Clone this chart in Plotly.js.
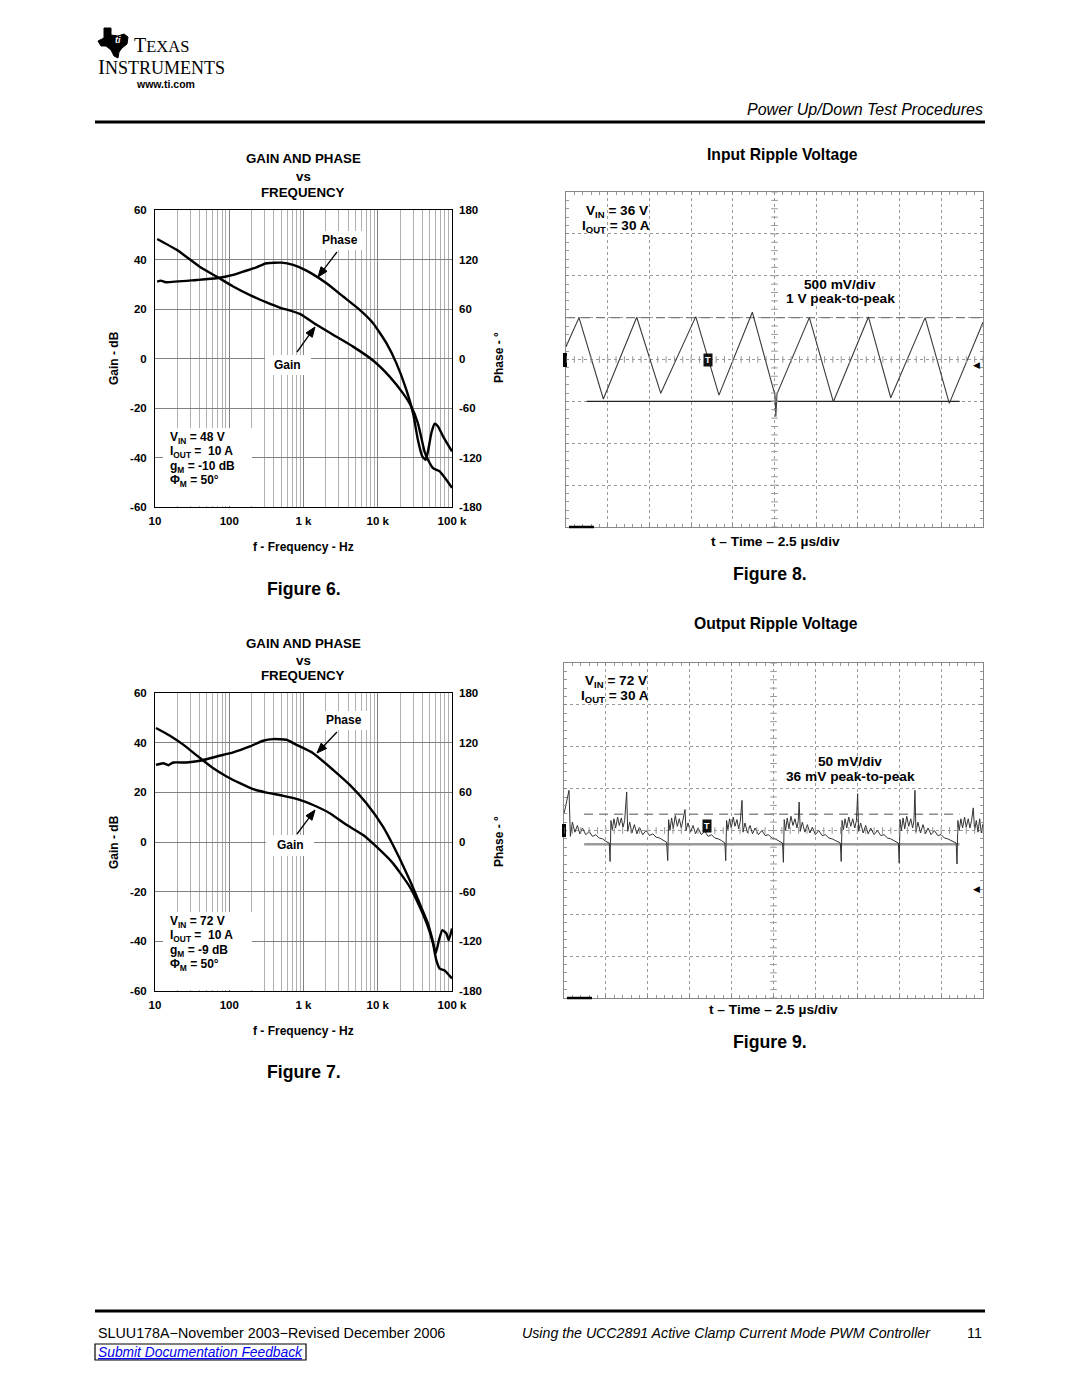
<!DOCTYPE html>
<html><head><meta charset="utf-8">
<script src="https://cdn.plot.ly/plotly-3.0.1.min.js"></script>
<style>html,body{margin:0;padding:0;background:#fff}</style>
</head><body>
<div id="chart" style="width:1080px;height:1397px"></div>
<script>
// ---------------- DATA ----------------
// Figure 6 (VIN = 48 V)
const fig6GainFreq = [10.7, 19.6, 40, 67.6, 113, 200, 318, 479, 891, 1496, 2500, 4650, 8650, 14460, 21800, 28300, 34700, 42600, 47500, 55500, 68200, 84000, 100000];
const fig6Gain     = [48.3, 43.9, 37.1, 33.1, 29.1, 25.3, 22.7, 20.6, 18.0, 13.6, 9.6, 4.8, -0.8, -7.3, -14.0, -19.4, -26.1, -37.5, -40.9, -44.3, -45.6, -49.0, -52.3];
const fig6PhaseFreq = [10.7, 12, 14, 36.3, 67.6, 113, 154, 233, 318, 505, 726, 1097, 2040, 3420, 5730, 8650, 13090, 17800, 24300, 29900, 34700, 39800, 44200, 47500, 52700, 58500, 64900, 75700, 100000];
const fig6Phase     = [93.2, 94.4, 92.5, 95.2, 97.3, 101.3, 105.3, 110.6, 115.4, 116.2, 113.4, 106.5, 91.2, 75.1, 58.9, 42.8, 18.6, -5.6, -37.9, -66.2, -98.5, -118.6, -122.7, -112.6, -90.4, -79.1, -82.3, -94.4, -112.6];

// Figure 7 (VIN = 72 V)
const fig7GainFreq = [10.3, 15.9, 24, 40.3, 61, 92, 139, 210, 318, 532, 891, 1349, 2260, 3790, 6350, 9600, 16070, 26900, 36700, 47500, 55500, 61500, 68200, 79500, 100000];
const fig7Gain     = [45.9, 42.8, 39.2, 33.8, 29.7, 26.4, 23.7, 21.3, 19.9, 18.6, 17.0, 14.9, 11.6, 6.9, 2.8, -1.9, -8.6, -18.0, -26.1, -34.2, -40.9, -47.6, -51.0, -51.7, -55.0];
const fig7PhaseFreq = [10.3, 12.9, 15.2, 17.6, 26.7, 40.3, 67.6, 113, 190, 286, 391, 590, 805, 1349, 2500, 4200, 7040, 11760, 17800, 26900, 36700, 47500, 55500, 60200, 66800, 74100, 84000, 90200, 100000];
const fig7Phase     = [93.2, 95.2, 92.8, 96.0, 96.0, 98.1, 103.3, 108.2, 115.4, 122.3, 124.3, 123.5, 117.4, 107.3, 87.2, 69.0, 46.8, 18.6, -11.7, -46.0, -74.3, -98.5, -120.7, -134.8, -118.6, -106.5, -110.6, -118.6, -104.5];

// Bode tick labels
const freqTickVals = [10, 100, 1000, 10000, 100000];
const freqTickText = ['10', '100', '1 k', '10 k', '100 k'];
const gainTickVals = [-60, -40, -20, 0, 20, 40, 60];
const gainTickText = ['-60', '-40', '-20', '0', '20', '40', '60'];
const phaseTickVals = [-180, -120, -60, 0, 60, 120, 180];
const phaseTickText = ['-180', '-120', '-60', '0', '60', '120', '180'];

// Figure 8 input ripple (time in µs, voltage in mV; 2.5 µs/div, 500 mV/div)
const fig8Time = [0, 0.78, 2.24, 4.24, 5.68, 7.78, 9.17, 11.17, 12.53, 12.58, 12.65, 14.59, 16.03, 18.13, 19.47, 21.53, 22.98, 25.0];
const fig8Volt = [153, 500, -472, 505, -404, 512, -425, 565, -425, -684, -410, 500, -505, 508, -457, 500, -524, 445];
const fig8CursorHigh = 500, fig8CursorLow = -500;
const fig8HighSpan = [0, 25], fig8LowSpan = [1.24, 23.6];

// Figure 9 output ripple (time in µs, voltage in mV; 2.5 µs/div, 50 mV/div)
const fig9Time = [
 0.00,0.30,0.38,0.50,0.65,0.80,0.95,1.10,1.30,1.50,1.70,1.90,2.10,2.30,2.50,2.70,
 2.75,2.80,2.88,2.98,3.08,3.20,3.30,3.42,3.52,3.62,3.74,3.80,3.92,4.05,4.20,4.35,4.50,4.70,4.90,5.10,5.30,5.50,5.70,5.90,6.12,
 6.19,6.24,6.32,6.42,6.52,6.64,6.76,6.88,7.00,7.10,7.22,7.28,7.40,7.55,7.70,7.85,8.00,8.20,8.40,8.60,8.80,9.00,9.20,9.40,9.60,
 9.65,9.70,9.78,9.88,9.98,10.10,10.20,10.32,10.42,10.52,10.62,10.68,10.80,10.95,11.10,11.25,11.40,11.60,11.80,12.00,12.20,12.40,12.60,12.80,13.04,
 13.09,13.14,13.22,13.32,13.42,13.54,13.66,13.78,13.90,13.98,14.03,14.10,14.22,14.37,14.52,14.67,14.82,15.00,15.20,15.40,15.60,15.80,16.00,16.20,16.49,
 16.54,16.59,16.67,16.77,16.87,16.99,17.11,17.23,17.35,17.45,17.52,17.58,17.70,17.85,18.00,18.15,18.30,18.50,18.70,18.90,19.10,19.30,19.50,19.70,19.95,
 20.00,20.05,20.13,20.23,20.33,20.45,20.57,20.69,20.80,20.88,20.94,21.00,21.12,21.27,21.42,21.57,21.72,21.90,22.10,22.30,22.50,22.70,22.90,23.10,23.40,
 23.45,23.50,23.58,23.68,23.78,23.90,24.00,24.12,24.22,24.32,24.42,24.50,24.60,24.70,24.80,24.90,25.00];
const fig9Volt = [
 20,48,-7,10,-2,6,-4,3,-5,-1,-7,-5,-9,-10,-13,-15,
 -37,12,1,14,3,16,6,15,4,12,46,-1,10,-3,7,-4,4,-5,0,-6,-4,-8,-9,-11,-14,
 -36,13,0,15,2,18,5,14,3,12,25,0,9,-2,6,-4,3,-5,-1,-7,-5,-9,-10,-12,-15,
 -36,12,1,14,3,16,5,13,2,11,36,-2,9,-3,6,-4,3,-5,0,-6,-5,-9,-10,-12,-15,
 -38,13,0,15,2,17,6,14,3,12,34,-1,10,-2,7,-3,4,-5,0,-6,-5,-9,-10,-12,-15,
 -37,12,1,14,3,16,5,14,3,12,44,-1,9,-3,6,-4,3,-5,0,-6,-5,-9,-10,-12,-15,
 -39,13,0,15,2,17,5,14,3,12,48,-2,10,-3,7,-4,3,-5,0,-6,-5,-9,-10,-12,-15,
 -40,12,0,14,3,16,4,14,3,12,27,0,12,-2,14,-3,8];
const fig9CursorHigh = 19.5, fig9CursorLow = -16.5;
const fig9HighSpan = [1.2, 23.6], fig9LowSpan = [1.2, 23.6];

// ---------------- LAYOUT HELPERS ----------------
const W = 1080, H = 1397;
const X = p => p / W, Y = p => 1 - p / H;
const b6 = {l:155, r:452, t:210, b:507};
const b7 = {l:155, r:452, t:693, b:991};
const s8 = {l:566, r:983, t:192, b:527};
const s9 = {l:564, r:983, t:663, b:998};
const FONT = 'Liberation Sans, Arial, sans-serif';
const TICKFONT = {family:FONT, size:11.5, color:'#000', weight:'bold'};

const minorFreq = [];
for (let d = 1; d <= 4; d++) for (let k = 2; k <= 9; k++) minorFreq.push(k * Math.pow(10, d));

function bodeX(box, anchor) {
  return {domain:[X(box.l), X(box.r)], anchor, type:'log', range:[1,5],
    tickmode:'array', tickvals:freqTickVals, ticktext:freqTickText, ticks:'',
    showline:true, mirror:true, linecolor:'#000', linewidth:1,
    showgrid:true, gridcolor:'#828282', gridwidth:1, zeroline:false,
    minor:{tickmode:'array', tickvals:minorFreq, showgrid:true, gridcolor:'#b0b0b0', gridwidth:1, ticks:''},
    tickfont:TICKFONT, ticklabelstandoff:3, fixedrange:true};
}
function bodeGain(box, anchor) {
  return {domain:[Y(box.b), Y(box.t)], anchor, range:[-60,60], tickmode:'array', tickvals:gainTickVals, ticktext:gainTickText,
    ticks:'', showline:true, mirror:true, linecolor:'#000', linewidth:1,
    showgrid:true, gridcolor:'#828282', gridwidth:1, zeroline:false,
    tickfont:TICKFONT, ticklabelstandoff:5, fixedrange:true};
}
function bodePhase(over, anchor) {
  return {overlaying:over, anchor, side:'right', range:[-180,180], tickmode:'array', tickvals:phaseTickVals, ticktext:phaseTickText,
    ticks:'', showline:false, showgrid:false, zeroline:false,
    tickfont:TICKFONT, ticklabelstandoff:6, fixedrange:true};
}
function scopeX(box, anchor) {
  return {domain:[X(box.l), X(box.r)], anchor, range:[0,25], tick0:0, dtick:2.5,
    showticklabels:false, ticks:'inside', ticklen:3, tickcolor:'#888',
    showline:true, mirror:'allticks', linecolor:'#888', linewidth:1,
    showgrid:true, gridcolor:'#9a9a9a', griddash:'dot', gridwidth:1, zeroline:false,
    minor:{dtick:0.5, tick0:0, ticks:'inside', ticklen:3, tickcolor:'#999', showgrid:false}, fixedrange:true};
}
function scopeY(box, anchor, span, major) {
  return {domain:[Y(box.b), Y(box.t)], anchor, range:[-span, span], tick0:0, dtick:major,
    showticklabels:false, ticks:'inside', ticklen:3, tickcolor:'#888',
    showline:true, mirror:'allticks', linecolor:'#888', linewidth:1,
    showgrid:true, gridcolor:'#9a9a9a', griddash:'dot', gridwidth:1, zeroline:false,
    minor:{dtick:major/5, tick0:0, ticks:'inside', ticklen:3, tickcolor:'#999', showgrid:false}, fixedrange:true};
}

// ---------------- TRACES ----------------
const bodeLine = {color:'#000', width:2.4, shape:'spline', smoothing:0.5};
const traces = [
  {x:fig6GainFreq, y:fig6Gain, xaxis:'x', yaxis:'y', mode:'lines', line:bodeLine, hoverinfo:'skip'},
  {x:fig6PhaseFreq, y:fig6Phase, xaxis:'x', yaxis:'y2', mode:'lines', line:bodeLine, hoverinfo:'skip'},
  {x:fig7GainFreq, y:fig7Gain, xaxis:'x2', yaxis:'y3', mode:'lines', line:bodeLine, hoverinfo:'skip'},
  {x:fig7PhaseFreq, y:fig7Phase, xaxis:'x2', yaxis:'y4', mode:'lines', line:bodeLine, hoverinfo:'skip'},
  {x:fig8HighSpan, y:[fig8CursorHigh, fig8CursorHigh], xaxis:'x3', yaxis:'y5', mode:'lines', line:{color:'#7a7a7a', width:1.3, dash:'9px,6px'}, hoverinfo:'skip'},
  {x:fig8LowSpan, y:[fig8CursorLow, fig8CursorLow], xaxis:'x3', yaxis:'y5', mode:'lines', line:{color:'#222', width:1.3}, hoverinfo:'skip'},
  {x:fig8Time, y:fig8Volt, xaxis:'x3', yaxis:'y5', mode:'lines', line:{color:'#3a3a3a', width:1.1}, hoverinfo:'skip'},
  {x:fig9HighSpan, y:[fig9CursorHigh, fig9CursorHigh], xaxis:'x4', yaxis:'y6', mode:'lines', line:{color:'#8a8a8a', width:1.5, dash:'9px,6px'}, hoverinfo:'skip'},
  {x:fig9LowSpan, y:[fig9CursorLow, fig9CursorLow], xaxis:'x4', yaxis:'y6', mode:'lines', line:{color:'#9a9a9a', width:2.5}, hoverinfo:'skip'},
  {x:fig9Time, y:fig9Volt, xaxis:'x4', yaxis:'y6', mode:'lines', line:{color:'#333', width:1}, hoverinfo:'skip'}
];

// ---------------- SHAPES ----------------
const shapes = [];
function pline(x0, y0, x1, y1, w, c) {
  shapes.push({type:'line', xref:'paper', yref:'paper', x0:X(x0), y0:Y(y0), x1:X(x1), y1:Y(y1), line:{color:c||'#000', width:w}, layer:'above'});
}
function prect(x0, y0, x1, y1, fill, lineColor, lw) {
  shapes.push({type:'rect', xref:'paper', yref:'paper', x0:X(x0), y0:Y(y1), x1:X(x1), y1:Y(y0),
    fillcolor:fill, line:{color:lineColor||'rgba(0,0,0,0)', width:lw||0}, layer:'above'});
}
function ppath(pts, fill) {
  shapes.push({type:'path', xref:'paper', yref:'paper', fillcolor:fill, line:{color:fill, width:1}, layer:'above',
    path:'M' + pts.map(p => X(p[0]) + ',' + Y(p[1])).join(' L') + ' Z'});
}
function arrowShape(hx, hy, tx, ty) {
  const dx = hx - tx, dy = hy - ty, len = Math.hypot(dx, dy);
  const ux = dx / len, uy = dy / len, nx = -uy, ny = ux;
  const hl = 10, hw = 3.8;
  const bx = hx - ux * hl, by = hy - uy * hl;
  pline(tx, ty, bx + ux * 2, by + uy * 2, 1.3);
  ppath([[hx, hy], [bx + nx * hw, by + ny * hw], [bx - nx * hw, by - ny * hw]], '#000');
}
// header / footer rules
pline(95, 122, 985, 122, 3);
pline(95, 1311, 985, 1311, 3);
prect(95, 1344, 306, 1360, 'rgba(0,0,0,0)', '#000', 1.2);
// white label patches in Bode plots
prect(163, 428, 252, 506, '#fff');
prect(315, 231, 366, 250, '#fff');
prect(265, 355, 311, 375, '#fff');
prect(163, 912, 252, 990, '#fff');
prect(318, 711, 370, 730, '#fff');
prect(266, 835, 314, 856, '#fff');
// arrows
arrowShape(318, 277, 337, 252);
arrowShape(315, 327, 297, 352);
arrowShape(317, 753, 337, 732);
arrowShape(315, 810, 297, 834);
// scope markers
prect(563, 353, 567, 367, '#000');
prect(562, 824, 566, 837, '#000');
pline(569, 527, 594, 527, 2.5);
pline(567, 998, 592, 998, 2.5);
// scope center-line ticks
function centerTicks(xa, ya, yHalf, yStep, ySpan) {
  for (let i = 0; i <= 50; i++) {
    const t = i * 0.5;
    shapes.push({type:'line', xref:xa, yref:ya, x0:t, x1:t, y0:-yHalf, y1:yHalf, line:{color:'#999', width:1}});
  }
  const n = Math.round(2 * ySpan / yStep);
  for (let j = 0; j <= n; j++) {
    const v = -ySpan + j * yStep;
    shapes.push({type:'line', xref:xa, yref:ya, x0:12.3, x1:12.7, y0:v, y1:v, line:{color:'#999', width:1}});
  }
}
centerTicks('x3', 'y5', 40, 100, 2000);
centerTicks('x4', 'y6', 4, 10, 200);
// TI logo silhouette
ppath([[104,28],[111,28],[111,35],[118,36],[124,34],[128,37],[127,44],[122,48],[119,52],[118,58],[114,56],[111,50],[106,46],[101,46],[98,41],[104,38]], '#000');

// ---------------- ANNOTATIONS ----------------
const ann = [];
function txt(text, x, y, size, o) {
  ann.push(Object.assign({xref:'paper', yref:'paper', x:X(x), y:Y(y), text, showarrow:false,
    font:{family:FONT, size, color:'#000'}, xanchor:'center', yanchor:'middle'}, o || {}));
}
// header
txt('<span style="font-size:20px">T</span>EXAS', 132, 45, 16.5, {xanchor:'left', font:{family:'Liberation Serif, serif', size:16.5, color:'#000'}});
txt('<span style="font-size:21px">I</span>NSTRUMENTS', 96, 67, 18, {xanchor:'left', font:{family:'Liberation Serif, serif', size:18, color:'#000'}});
txt('<b>www.ti.com</b>', 165, 84, 10.5);
txt('<b><i>ti</i></b>', 118, 40, 9, {font:{family:FONT, size:9, color:'#fff'}});
txt('<i>Power Up/Down Test Procedures</i>', 985, 110, 16, {xanchor:'right'});
// footer
txt('SLUU178A\u2212November 2003\u2212Revised December 2006', 96, 1333, 14.3, {xanchor:'left'});
txt('<i>Using the UCC2891 Active Clamp Current Mode PWM Controller</i>', 933, 1333, 14.2, {xanchor:'right'});
txt('11', 984, 1333, 14.3, {xanchor:'right'});
txt('<i><span style="text-decoration:underline">Submit Documentation Feedback</span></i>', 96, 1352, 13.8, {xanchor:'left', font:{family:FONT, size:13.8, color:'#0000ee'}});

// Bode titles / labels
function bodeText(dy, vin, gm, phi) {
  txt('<b>GAIN AND PHASE</b>', 303, 159 + dy, 13.3);
  txt('<b>vs</b>', 303, 176 + dy, 13.3);
  txt('<b>FREQUENCY</b>', 303, 192 + dy, 13.3);
  txt('<b>f - Frequency - Hz</b>', 303, 547 + dy, 12);
  txt('<b>Gain - dB</b>', 114, 358 + dy, 12, {textangle:-90});
  txt('<b>Phase - \u00b0</b>', 499, 358 + dy, 12, {textangle:-90});
  const l = 168;
  txt('<b>V<sub>IN</sub> = ' + vin + '</b>', l, 438 + dy, 12, {xanchor:'left'});
  txt('<b>I<sub>OUT</sub> =  10 A</b>', l, 452 + dy, 12, {xanchor:'left'});
  txt('<b>g<sub>M</sub> = ' + gm + '</b>', l, 467 + dy, 12, {xanchor:'left'});
  txt('<b>\u03a6<sub>M</sub> = ' + phi + '</b>', l, 481 + dy, 12, {xanchor:'left'});
}
bodeText(0, '48 V', '-10 dB', '50\u00b0');
bodeText(484, '72 V', '-9 dB', '50\u00b0');
txt('<b>Phase</b>', 340, 240, 12);
txt('<b>Gain</b>', 287, 365, 12);
txt('<b>Phase</b>', 344, 720, 12);
txt('<b>Gain</b>', 290, 845, 12);
txt('<b>Figure 6.</b>', 304, 589, 17.7);
txt('<b>Figure 7.</b>', 304, 1072, 17.7);

// Scope labels
txt('<b>Input Ripple Voltage</b>', 782, 154, 15.7);
txt('<b>Output Ripple Voltage</b>', 776, 623, 15.7);
txt('<b>V<sub>IN</sub> = 36 V</b>', 584, 211, 13.6, {xanchor:'left'});
txt('<b>I<sub>OUT</sub> = 30 A</b>', 580, 227, 13.6, {xanchor:'left'});
txt('<b>V<sub>IN</sub> = 72 V</b>', 583, 681, 13.6, {xanchor:'left'});
txt('<b>I<sub>OUT</sub> = 30 A</b>', 579, 696, 13.6, {xanchor:'left'});
txt('<b>500 mV/div</b>', 840, 284, 13.7);
txt('<b>1 V peak-to-peak</b>', 840, 299, 13.7);
txt('<b>50 mV/div</b>', 850, 761, 13.7);
txt('<b>36 mV peak-to-peak</b>', 850, 776, 13.7);
txt('<b>t \u2013 Time \u2013 2.5 \u00b5s/div</b>', 775, 541, 13.7);
txt('<b>t \u2013 Time \u2013 2.5 \u00b5s/div</b>', 773, 1010, 13.7);
txt('<b>Figure 8.</b>', 770, 574, 17.7);
txt('<b>Figure 9.</b>', 770, 1042, 17.7);
txt('\u25c0', 976, 365, 9, {font:{family:'DejaVu Sans', size:9, color:'#000'}});
txt('\u25c0', 976, 889, 9, {font:{family:'DejaVu Sans', size:9, color:'#000'}});
ann.push({xref:'x3', yref:'y5', x:8.53, y:0, text:'<b>T</b>', showarrow:false, bgcolor:'#111', borderpad:1,
  font:{family:FONT, size:9, color:'#fff'}});
ann.push({xref:'x4', yref:'y6', x:8.54, y:5, text:'<b>T</b>', showarrow:false, bgcolor:'#111', borderpad:1,
  font:{family:FONT, size:9, color:'#fff'}});

const layout = {
  width:W, height:H, margin:{l:0, r:0, t:0, b:0}, showlegend:false,
  paper_bgcolor:'#fff', plot_bgcolor:'#fff',
  xaxis:bodeX(b6, 'y'), yaxis:bodeGain(b6, 'x'), yaxis2:bodePhase('y', 'x'),
  xaxis2:bodeX(b7, 'y3'), yaxis3:bodeGain(b7, 'x2'), yaxis4:bodePhase('y3', 'x2'),
  xaxis3:scopeX(s8, 'y5'), yaxis5:scopeY(s8, 'x3', 2000, 500),
  xaxis4:scopeX(s9, 'y6'), yaxis6:scopeY(s9, 'x4', 200, 50),
  shapes, annotations:ann
};
Plotly.newPlot('chart', traces, layout, {staticPlot:true, displayModeBar:false});
</script>
</body></html>
